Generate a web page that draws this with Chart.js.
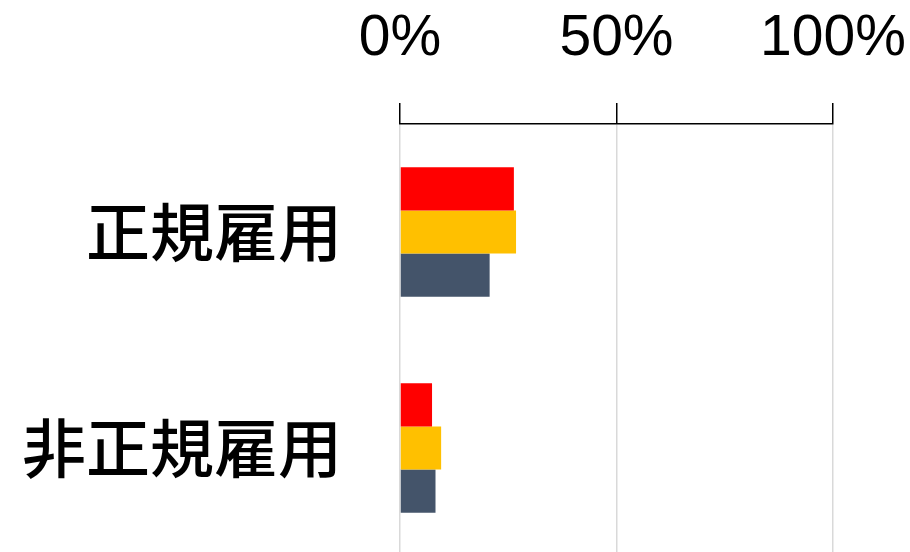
<!DOCTYPE html>
<html>
<head>
<meta charset="utf-8">
<script src="https://cdn.jsdelivr.net/npm/chart.js@4"></script>
<style>
  html, body { margin: 0; padding: 0; background: #fff; overflow: hidden; }
  #wrap { width: 910px; height: 556px; }
</style>
</head>
<body>
<div id="wrap"><canvas id="chart" width="910" height="556"></canvas></div>
<script>
// Categories and series values (percent)
const categories = ['正規雇用', '非正規雇用'];
const seriesNames = ['系列1', '系列2', '系列3'];
const series1 = [26.3, 7.4];
const series2 = [26.8, 9.5];
const series3 = [20.7, 8.2];
const xTicks = [0, 50, 100];

const colors = ['#FF0000', '#FFC000', '#44546A'];

const ctx = document.getElementById('chart').getContext('2d');

new Chart(ctx, {
    type: 'bar',
    data: {
        labels: categories,
        datasets: [series1, series2, series3].map((vals, i) => ({
            label: seriesNames[i],
            data: vals,
            backgroundColor: colors[i],
            borderWidth: 0,
            categoryPercentage: 0.6,
            barPercentage: 1.0
        }))
    },
    options: {
        indexAxis: 'y',
        responsive: false,
        animation: false,
        layout: { padding: { left: 0, right: 77, top: 0, bottom: 0 } },
        plugins: {
            legend: { display: false },
            tooltip: { enabled: false }
        },
        scales: {
            x: {
                position: 'top',
                min: 0,
                max: 100,
                afterFit: scale => {
                    scale.height = 124;
                    // keep label overhang from shrinking the plot
                    scale.paddingLeft = 0;
                    scale.paddingRight = 0;
                },
                afterBuildTicks: scale => { scale.ticks = xTicks.map(v => ({ value: v })); },
                ticks: {
                    callback: v => v + '%',
                    color: '#000',
                    padding: 30,
                    maxRotation: 0,
                    font: { family: "'Liberation Sans', sans-serif", size: 57 }
                },
                grid: {
                    color: '#d9d9d9',
                    lineWidth: 1.5,
                    drawTicks: true,
                    tickLength: 21,
                    tickColor: '#000',
                    tickWidth: 1.5
                },
                border: { display: true, color: '#000', width: 1.5 }
            },
            y: {
                afterFit: scale => {
                    scale.width = 400;
                    scale.paddingTop = 0;
                    scale.paddingBottom = 0;
                },
                ticks: {
                    color: '#000',
                    padding: 58,
                    font: { family: "'Noto Sans CJK JP', sans-serif", size: 64, weight: 500 }
                },
                grid: { display: false, drawTicks: false },
                border: { display: false }
            }
        }
    }
});
</script>
</body>
</html>
